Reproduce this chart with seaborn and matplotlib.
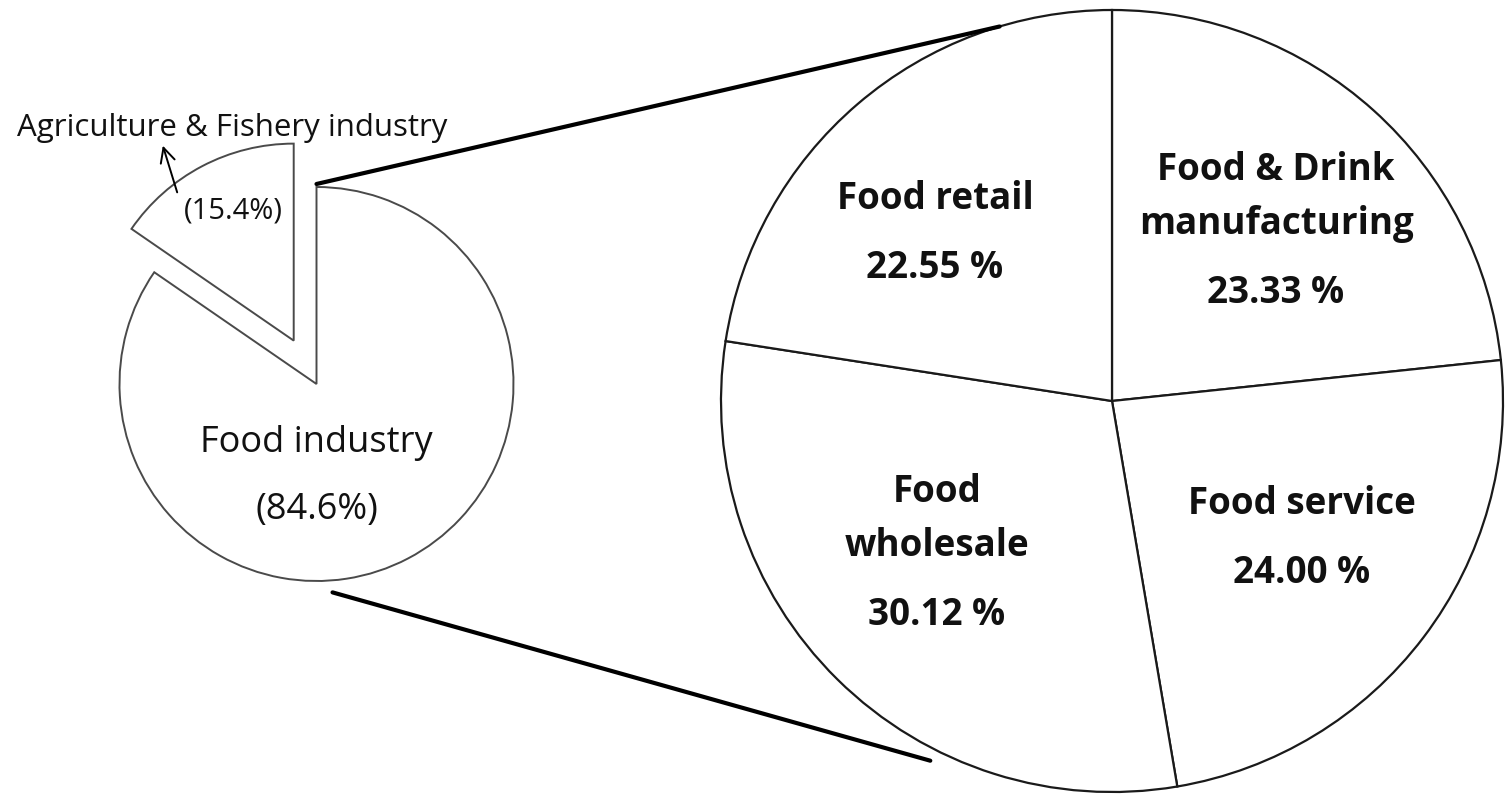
import numpy as np
import seaborn as sns
import matplotlib.pyplot as plt

sns.set_theme(style="white")
plt.rcParams['font.family'] = ['Open Sans', 'DejaVu Sans']

# data
outer_labels = ["Food industry", "Agriculture & Fishery industry"]
outer_values = [84.6, 15.4]
inner_labels = ["Food & Drink\nmanufacturing", "Food service", "Food\nwholesale", "Food retail"]
inner_values = [23.33, 24.00, 30.12, 22.55]

# where each right-pie label sits (offset of its percent line from the pie centre, px, y up)
label_offsets = [(164, 108), (190, -172), (-175, -214), (-177, 133)]

W, H = 1511, 796
fig = plt.figure(figsize=(W / 100, H / 100), dpi=100)
ax = fig.add_axes([0, 0, 1, 1])

# left pie (pixel-like data units, y up)
c1 = (316.5, H - 384)
r1 = 197
ax.pie(outer_values, startangle=90, counterclock=False, center=c1, radius=r1,
       explode=[0, 49], colors=["white", "white"],
       wedgeprops=dict(edgecolor="#4a4a4a", linewidth=1.4))

# right pie
c2 = (1112, H - 401)
r2 = 391
wedges, _ = ax.pie(inner_values, startangle=90, counterclock=False, center=c2, radius=r2,
                   colors=["white"] * 4,
                   wedgeprops=dict(edgecolor="#1a1a1a", linewidth=1.6))

ax.set_xlim(0, W)
ax.set_ylim(0, H)
ax.set_aspect("equal")
ax.axis("off")

bold = dict(ha="center", va="center", fontsize=26.5, fontweight="bold", color="#111111")
for name, val, (dx, dy) in zip(inner_labels, inner_values, label_offsets):
    x = c2[0] + dx
    y = c2[1] + dy
    ax.text(x, y, f"{val:.2f} %", **bold)
    lines = name.split("\n")
    for i, line in enumerate(reversed(lines)):
        ax.text(x, y + 69 + 54 * i, line, **bold)

# labels of left pie
ax.text(c1[0], c1[1] - 59, outer_labels[0], ha="center", va="center", fontsize=26, color="#111111")
ax.text(c1[0], c1[1] - 126, f"({outer_values[0]}%)", ha="center", va="center", fontsize=26,
        color="#111111")
ax.text(233, H - 211, f"({outer_values[1]}%)", ha="center", va="center", fontsize=21, color="#111111")
ax.text(232, H - 128, outer_labels[1], ha="center", va="center", fontsize=22.5, color="#111111")
ax.annotate("", xy=(162, H - 143), xytext=(178, H - 195),
            arrowprops=dict(arrowstyle="->", color="black", lw=1.4, mutation_scale=26))

# connector lines between the pies
def on_circle(c, r, ang):
    a = np.deg2rad(ang)
    return c[0] + r * np.cos(a), c[1] + r * np.sin(a)

p1 = on_circle(c1, r1 + 3, 90)
p2 = on_circle(c2, r2, 106.7)
q1 = on_circle(c1, r1 + 12, -85.6)
q2 = on_circle(c2, r2 + 12, -116.8)
ax.plot([p1[0], p2[0]], [p1[1], p2[1]], color="black", lw=3)
ax.plot([q1[0], q2[0]], [q1[1], q2[1]], color="black", lw=3)

fig.savefig("out.png", dpi=100)
